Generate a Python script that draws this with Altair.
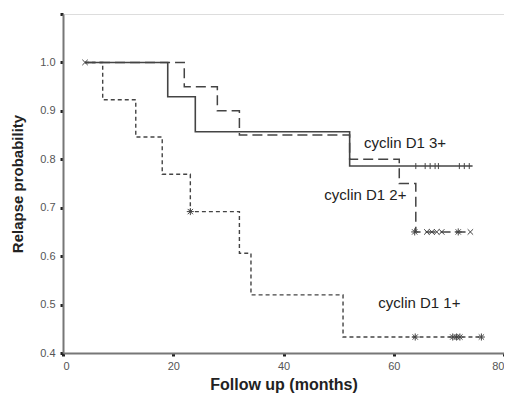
import altair as alt
import pandas as pd

# Kaplan-Meier step curves (time in months, relapse probability)
t3 = [4, 19, 24, 52, 74.3]
s3 = [1.0, 0.929, 0.857, 0.786, 0.786]
t2 = [4, 22, 28, 32, 52, 61, 64, 73.9]
s2 = [1.0, 0.95, 0.9, 0.85, 0.8, 0.75, 0.65, 0.65]
t1 = [4, 7.2, 13.2, 18, 23.1, 32, 34.1, 50.8, 75.9]
s1 = [1.0, 0.923, 0.846, 0.769, 0.692, 0.606, 0.52, 0.433, 0.433]

# censor marks
c3_t = [64, 65.7, 66.6, 67.5, 68.1, 71.9, 72.8, 73.7]
c3_y = [0.786] * 8
c2_star_t = [63.8, 71.7]
c2_star_y = [0.65, 0.65]
c2_x_t = [66.0, 66.9, 67.8, 68.7, 73.9]
c2_x_y = [0.65] * 5
c1_t = [23.1, 63.9, 70.7, 71.4, 72.0, 75.9]
c1_y = [0.692, 0.433, 0.433, 0.433, 0.433, 0.433]
start_t = [4]
start_y = [1.0]

labels = ["cyclin D1 3+", "cyclin D1 2+", "cyclin D1 1+"]
label_t = [54.6, 47.4, 57.2]
label_y = [0.833, 0.726, 0.503]

line_color = "#444444"

xs = alt.Scale(domain=[0, 80], nice=False, zero=False)
ys = alt.Scale(domain=[0.4, 1.1], nice=False, zero=False)

xaxis = alt.Axis(values=[0, 20, 40, 60, 80], title="Follow up (months)", grid=False,
                 tickSize=3, tickWidth=3, tickColor="#222", domainColor="#777", domainWidth=2,
                 labelColor="#555", labelFontSize=11, labelFont="Liberation Sans", labelPadding=4,
                 titleFont="Liberation Sans", titleFontSize=16, titleFontWeight="bold",
                 titleColor="#222", titlePadding=5)
yaxis = alt.Axis(values=[0.4, 0.5, 0.6, 0.7, 0.8, 0.9, 1.0, 1.1],
                 labelExpr="datum.value > 1.05 ? '' : format(datum.value, '.1f')",
                 title="Relapse probability", grid=False,
                 tickSize=3, tickWidth=3, tickColor="#222", domainColor="#777", domainWidth=2,
                 labelColor="#555", labelFontSize=11, labelFont="Liberation Sans", labelPadding=5,
                 titleFont="Liberation Sans", titleFontSize=15, titleFontWeight="bold",
                 titleColor="#222", titlePadding=14)

def df(t, y):
    return pd.DataFrame({"t": t, "y": y})

def step(t, y, dash, width):
    return alt.Chart(df(t, y)).mark_line(interpolate="step-after", color=line_color,
                                         strokeWidth=width, strokeDash=dash).encode(
        x=alt.X("t:Q", scale=xs, axis=xaxis), y=alt.Y("y:Q", scale=ys, axis=yaxis))

X_SHAPE = "M-1,-1L1,1M-1,1L1,-1"
STAR = "M-1,0L1,0M0,-1L0,1M-0.75,-0.75L0.75,0.75M-0.75,0.75L0.75,-0.75"
VTICK = "M0,-1L0,1"

def marks(t, y, shape, size):
    return alt.Chart(df(t, y)).mark_point(shape=shape, size=size, color=line_color,
                                          strokeWidth=1, filled=False, opacity=1).encode(
        x=alt.X("t:Q", scale=xs), y=alt.Y("y:Q", scale=ys))

lbl = alt.Chart(pd.DataFrame({"t": label_t, "y": label_y, "s": labels})).mark_text(
    align="left", baseline="middle", font="Liberation Sans", fontSize=15, color="#222").encode(
    x=alt.X("t:Q", scale=xs), y=alt.Y("y:Q", scale=ys), text="s:N")

chart = alt.layer(
    step(t1, s1, [4, 3], 1.4),
    step(t2, s2, [10, 5], 1.5),
    step(t3, s3, [1, 0], 1.6),
    marks(c3_t, c3_y, VTICK, 36),
    marks(c2_star_t, c2_star_y, STAR, 50),
    marks(c2_x_t, c2_x_y, X_SHAPE, 30),
    marks(c1_t, c1_y, STAR, 50),
    marks(start_t, start_y, X_SHAPE, 30),
    lbl,
).properties(
    width=441, height=339,
    autosize=alt.AutoSizeParams(type="none"),
    padding={"left": 55, "top": 6, "right": 0, "bottom": 40},
).configure_view(stroke="#777", strokeWidth=2).configure(background="white")

chart.save("out.html", embed_options={"renderer": "svg", "actions": False})
